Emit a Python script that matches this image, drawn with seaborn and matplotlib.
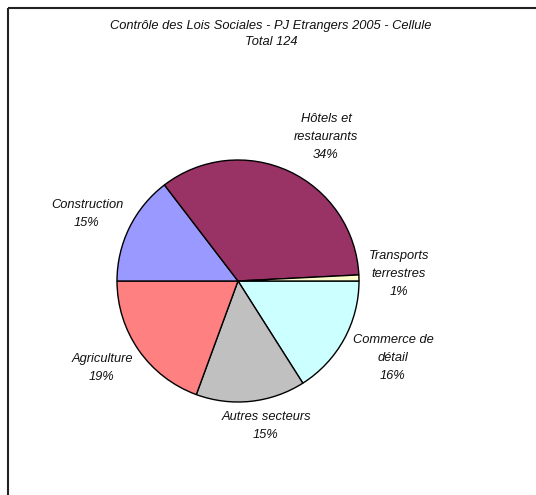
import matplotlib
matplotlib.use("Agg")
import matplotlib.pyplot as plt
import seaborn as sns
from matplotlib.patches import Rectangle

# Données (parts en %, ordre horaire depuis 3 h)
secteurs = ["Commerce de\ndétail", "Autres secteurs", "Agriculture",
            "Construction", "Hôtels et\nrestaurants", "Transports\nterrestres"]
parts = [16.0, 14.6, 19.4, 14.6, 34.6, 0.8]
pourcentages = ["16%", "15%", "19%", "15%", "34%", "1%"]
couleurs = ["#CCFFFF", "#C0C0C0", "#FF8080", "#9999FF", "#993366", "#FFFFCC"]

titre = "Contrôle des Lois Sociales - PJ Etrangers 2005 - Cellule\nTotal 124"

# Position des étiquettes (pixels de l'image)
pos_etiquettes = [(393, 358), (266, 426), (102, 368),
                  (87, 214), (326, 137), (399, 274)]

sns.set_theme(style="white")
plt.rcParams['font.family'] = ['Liberation Sans', 'DejaVu Sans']

W, H = 536, 495
fig = plt.figure(figsize=(W / 100, H / 100), dpi=100)
ax = fig.add_axes([0, 0, 1, 1])

# axe y inversé : counterclock=True donne un sens horaire à l'écran
ax.pie(parts, colors=couleurs, startangle=0, counterclock=True,
       center=(238, 281), radius=121,
       wedgeprops={'edgecolor': 'black', 'linewidth': 1.0})
ax.set_xlim(0, W)
ax.set_ylim(H, 0)
ax.set_aspect('equal')
ax.axis('off')

for nom, pct, (x, y) in zip(secteurs, pourcentages, pos_etiquettes):
    ax.text(x, y, f"{nom}\n{pct}", ha='center', va='center',
            fontsize=9.3, style='italic', color='#111111', linespacing=1.7)

ax.text(271, 34, titre, ha='center', va='center', fontsize=9.3,
        style='italic', color='#111111', linespacing=1.4)

# cadre du graphique (coupé à droite et en bas)
ax.add_patch(Rectangle((8, 8), 700, 700, fill=False, edgecolor='#222222',
                       linewidth=1.5, clip_on=False))

fig.savefig("out.png", dpi=100)
